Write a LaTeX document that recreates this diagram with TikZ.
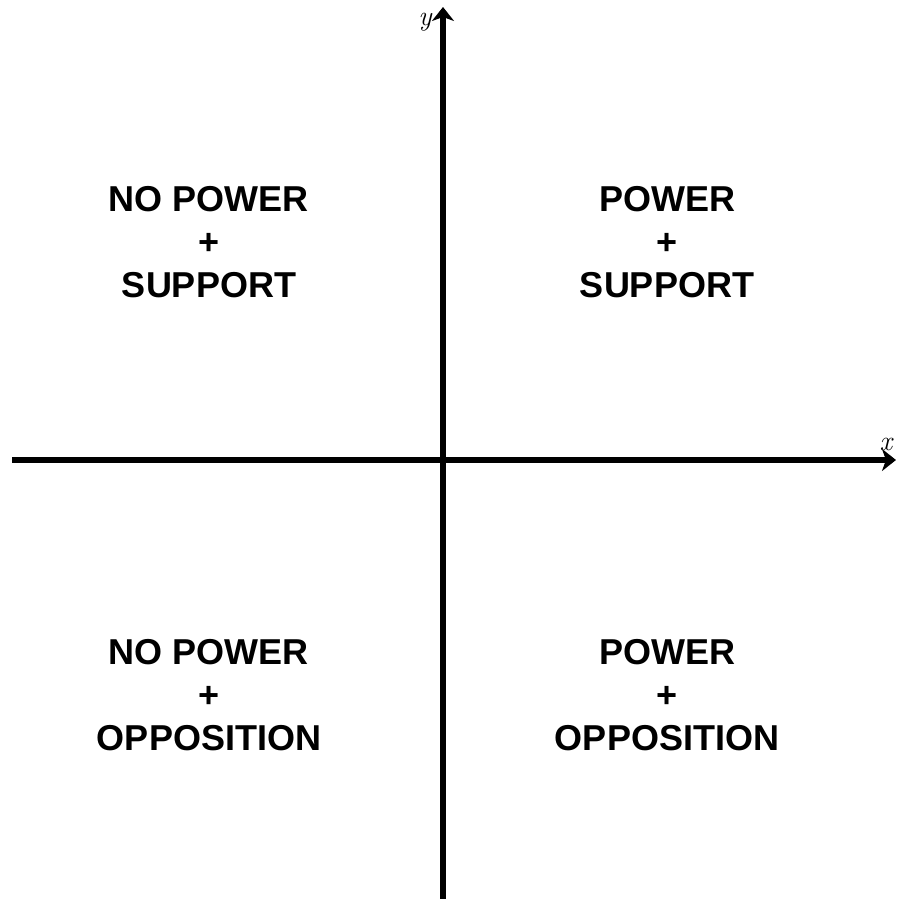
\documentclass[tikz,border=0pt]{standalone}
\usepackage{fontspec}
\newfontfamily\quadfont{Liberation Sans}
\usetikzlibrary{positioning,arrows.meta}

\begin{document}
\begin{tikzpicture}[
    x=1pt, y=1pt,
    >={Stealth[length=14pt, width=22pt, inset=4pt]},
    axis/.style={line width=6pt, ->},
    quadlabel/.style={
        font=\quadfont\bfseries\fontsize{36}{43}\selectfont,
        align=center
    },
    axislabel/.style={font=\fontsize{28}{30}\selectfont\itshape, inner sep=0pt}
]
\useasboundingbox (0,0) rectangle (906,898);

% axes
\coordinate (xmin) at (12,438);
\coordinate (xmax) at (896,438);
\coordinate (ymin) at (443,-4);
\coordinate (ymax) at (443,891);

\draw[axis] (xmin) -- (xmax);
\draw[axis] (ymin) -- (ymax);

\node[axislabel] (xlab) at (886,454) {x};
\node[axislabel] (ylab) at (425,876) {y};

% quadrants
\node[quadlabel] (nps) at (209,656) {NO POWER\\+\\SUPPORT};
\node[quadlabel] (ps)  at (667,656) {POWER\\+\\SUPPORT};
\node[quadlabel] (npo) at (209,203) {NO POWER\\+\\OPPOSITION};
\node[quadlabel] (po)  at (667,203) {POWER\\+\\OPPOSITION};

\end{tikzpicture}
\end{document}
